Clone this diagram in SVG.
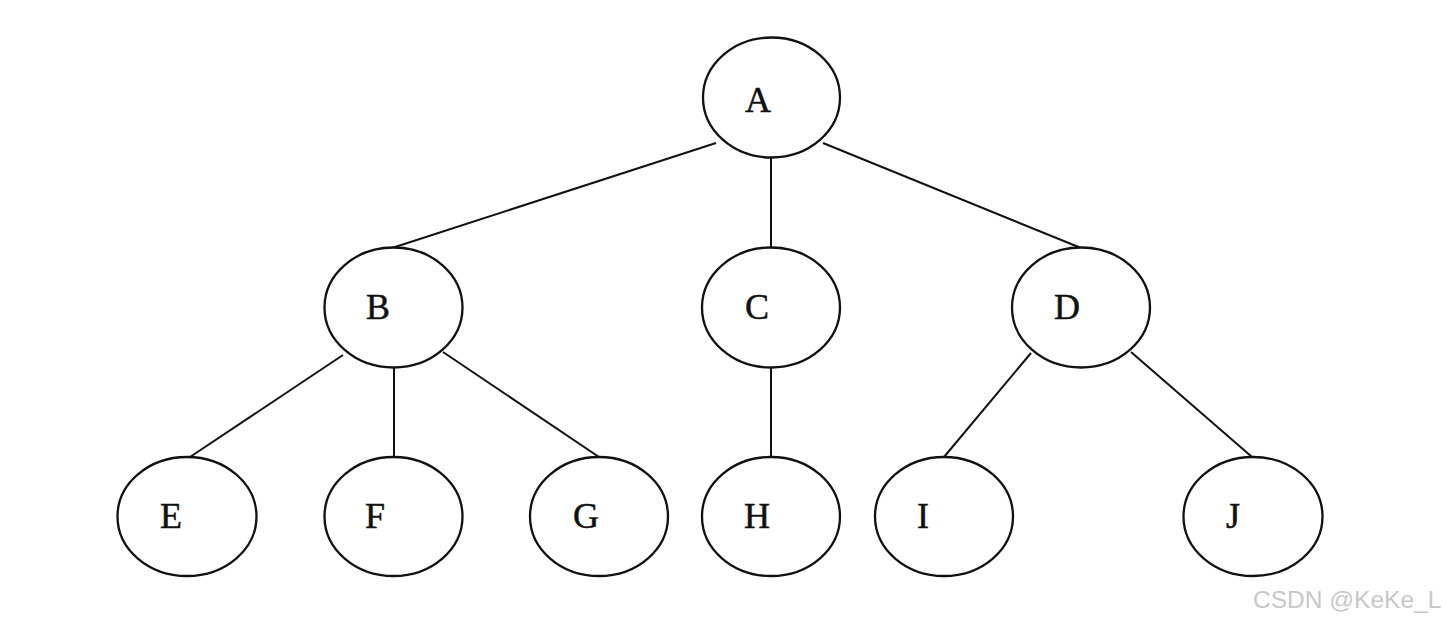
<svg xmlns="http://www.w3.org/2000/svg" width="1446" height="624" viewBox="0 0 1446 624">
<style>
.n{fill:#fff;stroke:#111;stroke-width:2.3}
.t{font-family:"Liberation Serif",serif;font-size:36px;fill:#111;stroke:#111;stroke-width:0.5;text-anchor:middle}
.e{stroke:#111;stroke-width:2;fill:none}
.w{font-family:"Liberation Sans",Arial,sans-serif;font-size:24.5px;fill:#c8c8c8}
</style>
<rect width="1446" height="624" fill="#fff"/>
<g id="edges">
<line class="e" x1="716" y1="143" x2="392" y2="248"/>
<line class="e" x1="771" y1="158" x2="771" y2="248"/>
<line class="e" x1="823" y1="143" x2="1081" y2="248"/>
<line class="e" x1="343" y1="355" x2="190" y2="457"/>
<line class="e" x1="394" y1="368" x2="394" y2="457"/>
<line class="e" x1="443" y1="352" x2="599" y2="457"/>
<line class="e" x1="771" y1="368" x2="771" y2="457"/>
<line class="e" x1="1031" y1="353" x2="944" y2="457"/>
<line class="e" x1="1131" y1="352" x2="1252" y2="457"/>
</g>
<g id="A"><ellipse class="n" cx="771.5" cy="97.5" rx="68.5" ry="60"/><text class="t" x="758" y="112">A</text></g>
<g id="B"><ellipse class="n" cx="393.5" cy="307.5" rx="69" ry="60"/><text class="t" x="378" y="319">B</text></g>
<g id="C"><ellipse class="n" cx="771" cy="307.5" rx="69" ry="60"/><text class="t" x="757" y="319">C</text></g>
<g id="D"><ellipse class="n" cx="1081" cy="307.5" rx="69" ry="60"/><text class="t" x="1067" y="319">D</text></g>
<g id="E"><ellipse class="n" cx="187" cy="516.5" rx="69.5" ry="59.5"/><text class="t" x="171" y="528">E</text></g>
<g id="F"><ellipse class="n" cx="393.5" cy="516.5" rx="69" ry="59.5"/><text class="t" x="375" y="528">F</text></g>
<g id="G"><ellipse class="n" cx="599" cy="516.5" rx="69" ry="59.5"/><text class="t" x="586" y="528">G</text></g>
<g id="H"><ellipse class="n" cx="771" cy="516.5" rx="69" ry="59.5"/><text class="t" x="757" y="528">H</text></g>
<g id="I"><ellipse class="n" cx="944" cy="516.5" rx="69" ry="59.5"/><text class="t" x="923" y="528">I</text></g>
<g id="J"><ellipse class="n" cx="1253" cy="516.5" rx="69.5" ry="59.5"/><text class="t" x="1233" y="528">J</text></g>
<text class="w" x="1253" y="608">CSDN @KeKe_L</text>
</svg>
